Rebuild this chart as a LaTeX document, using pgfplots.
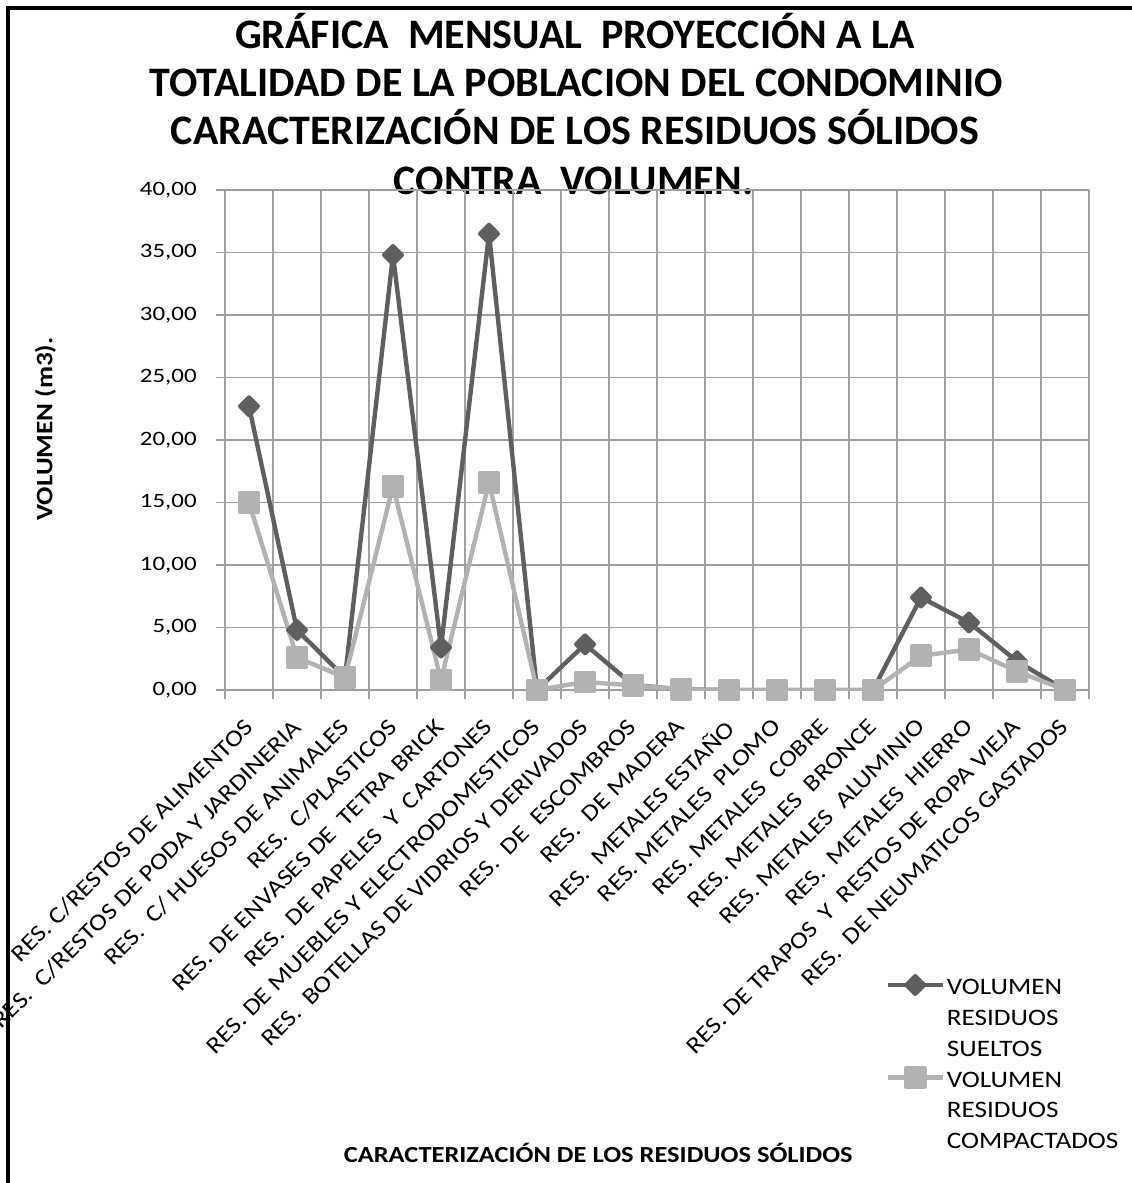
\documentclass[border=0pt]{standalone}
\usepackage{fontspec}
\setmainfont{Carlito}
\newfontfamily\titlefont{Carlito}
\newfontfamily\lblfont[FakeStretch=1.15]{Carlito}
\newfontfamily\tickfont[FakeStretch=1.22]{Carlito}
\usepackage{pgfplots}
\pgfplotsset{compat=1.18}
\definecolor{darkser}{HTML}{5F5F5F}
\definecolor{lightser}{HTML}{B2B2B2}
\definecolor{gridc}{HTML}{A0A0A0}
\begin{document}
\begin{tikzpicture}
\path[use as bounding box] (0,0) rectangle (565.5pt,591.5pt);
\draw[line width=2pt] (4pt,-5pt) -- (4pt,587.5pt) -- (570pt,587.5pt);
\tikzset{ttl/.style={anchor=base,inner sep=0pt,font=\titlefont\bfseries\fontsize{21}{24}\selectfont}}
\node[ttl] at (287.5pt,567pt) {GRÁFICA \ MENSUAL \ PROYECCIÓN A LA};
\node[ttl] at (288.25pt,543pt) {TOTALIDAD DE LA POBLACION DEL CONDOMINIO};
\node[ttl] at (287.5pt,519pt) {CARACTERIZACIÓN DE LOS RESIDUOS SÓLIDOS};
\node[ttl] at (286.75pt,494pt) {CONTRA \ VOLUMEN.};
\begin{axis}[
  at={(112.5pt,246.5pt)}, anchor=south west,
  width=432pt, height=250pt, scale only axis,
  xmin=-0.5, xmax=17.5, ymin=0, ymax=40,
  xtick={0,...,17},
  xticklabels={RES. C/RESTOS DE ALIMENTOS, RES. \ C/RESTOS DE PODA Y JARDINERIA, RES. \ C/ HUESOS DE ANIMALES, RES. \ C/PLASTICOS, RES. DE ENVASES DE \ TETRA BRICK, RES. \ DE PAPELES \ Y \ CARTONES, RES. DE MUEBLES Y ELECTRODOMESTICOS, RES. \ BOTELLAS DE VIDRIOS Y DERIVADOS, RES. \ DE \ ESCOMBROS, RES. \ DE MADERA, RES. \ METALES ESTAÑO, RES. METALES \ PLOMO, RES. METALES \ COBRE, RES. METALES \ BRONCE, RES. METALES \ ALUMINIO, RES. \ METALES \ HIERRO, RES. DE TRAPOS \ Y \ RESTOS DE ROPA VIEJA, RES. \ DE NEUMATICOS GASTADOS},
  major x tick style={draw=none},
  minor xtick={-0.5,0.5,...,17.5},
  minor x grid style={gridc, line width=0.75pt},
  xminorgrids,
  minor tick length=4.5pt,
  ytick={0,5,...,40},
  ymajorgrids,
  major grid style={gridc, line width=0.75pt},
  major tick length=4.5pt,
  tick align=outside,
  tick style={gridc, line width=0.75pt},
  axis line style={gridc, line width=0.75pt},
  axis x line*=bottom, axis y line*=left,
  xticklabel style={font=\lblfont\fontsize{11.7}{14}\selectfont, inner sep=0pt, xshift=-3pt, yshift=-9pt, rotate=45, anchor=north east},
  yticklabel style={font=\tickfont\fontsize{10.2}{12}\selectfont, inner sep=0pt, xshift=-9.5pt},
  /pgf/number format/assume math mode=true,
  yticklabel={\pgfmathprintnumber[fixed,fixed zerofill,precision=2,use comma]{\tick}},
  ylabel={VOLUMEN (m3).},
  ylabel style={font=\lblfont\bfseries\fontsize{11.8}{14}\selectfont, at={(axis description cs:-0.208,0.522)}, anchor=center},
  xlabel={CARACTERIZACIÓN DE LOS RESIDUOS SÓLIDOS},
  xlabel style={font=\lblfont\bfseries\fontsize{11.5}{14}\selectfont, at={(axis description cs:0.432,-0.926)}, anchor=center},
  legend style={at={(axis description cs:0.764,-0.562)}, anchor=north west, draw=none, fill=none, inner sep=0pt,
    font=\lblfont\fontsize{11.8}{15.3}\selectfont,
    nodes={inner sep=1pt}, row sep=32pt,
    /tikz/every even column/.append style={column sep=0pt}},
  legend cell align=left,
  legend image code/.code={\draw[mark repeat=2,mark phase=2] plot coordinates {(0pt,0.3pt)(13.75pt,0.3pt)(27.5pt,0.3pt)};},
]
\addplot[darkser, line width=2.2pt, line join=round, mark=square*, mark size=3.1pt, mark options={solid, rotate=45}] coordinates {
(0,22.7)(1,4.8)(2,1.0)(3,34.8)(4,3.4)(5,36.5)(6,0)(7,3.65)(8,0.4)(9,0.05)(10,0)(11,0)(12,0)(13,0)(14,7.4)(15,5.4)(16,2.3)(17,0)};
\addlegendentry{\begin{tabular}[t]{@{}l@{}}VOLUMEN\\RESIDUOS\\SUELTOS\end{tabular}}
\addplot[lightser, line width=2.2pt, line join=round, mark=square*, mark size=4.6pt, mark options={solid}] coordinates {
(0,15.0)(1,2.6)(2,1.0)(3,16.3)(4,0.8)(5,16.6)(6,0)(7,0.64)(8,0.37)(9,0.05)(10,0)(11,0)(12,0)(13,0)(14,2.73)(15,3.25)(16,1.5)(17,0)};
\addlegendentry{\begin{tabular}[t]{@{}l@{}}VOLUMEN\\RESIDUOS\\COMPACTADOS\end{tabular}}
\end{axis}
\end{tikzpicture}
\end{document}
